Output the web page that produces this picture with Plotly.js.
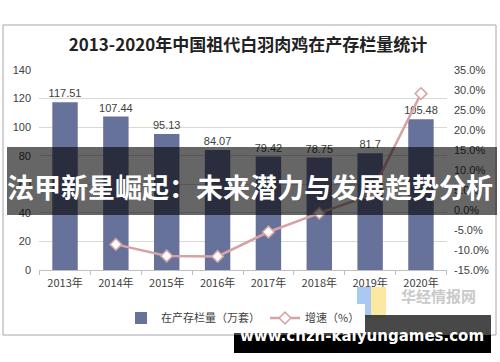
<!DOCTYPE html>
<html><head><meta charset="utf-8">
<script src="https://cdn.plot.ly/plotly-3.0.1.min.js"></script>
<style>body{margin:0;background:#fff}#c{width:500px;height:362px}</style>
</head><body><div id="c"></div>
<script>
const years = ["2013年","2014年","2015年","2016年","2017年","2018年","2019年","2020年"];
const stock = [117.51,107.44,95.13,84.07,79.42,78.75,81.7,105.48];
const growth = [null,-8.6,-11.5,-11.6,-5.5,-0.8,3.7,29.1];
const stockLabels = ["117.51","107.44","95.13","84.07","79.42","78.75","81.7","105.48"];
const leftTicks = [0,20,40,60,80,100,120,140];
const rightTicks = [-15,-10,-5,0,5,10,15,20,25,30,35];

const L=39,R=447,T=70,B=270;
const px = x => (x-L)/(R-L);
const py = y => (B-y)/(B-T);
const lab = {family:"Liberation Sans, Noto Sans CJK SC", size:11, color:"#404040"};

const traces = [
 {type:"bar", x:years, y:stock, name:"在产存栏量（万套）", marker:{color:"#67729b"}, width:0.5,
  text:stockLabels, textposition:"outside", textfont:lab, constraintext:"none", cliponaxis:false, hoverinfo:"none"},
 {type:"scatter", mode:"lines+markers", x:years, y:growth, yaxis:"y2", name:"增速（%）",
  line:{color:"#d6a3a5", width:2.5}, marker:{symbol:"diamond", size:9, color:"#fff", line:{color:"#d6a3a5", width:1.5}},
  connectgaps:false, hoverinfo:"none"}
];

const layout = {
 width:500, height:362, margin:{l:L, r:500-R, t:T, b:362-B},
 paper_bgcolor:"#fff", plot_bgcolor:"#fff", font:lab,
 title:{text:"2013-2020年中国祖代白羽肉鸡在产存栏量统计", x:0.496, xanchor:"center", y:1-45/362, yanchor:"middle",
   font:{family:"Noto Sans CJK SC", size:17, color:"#222", weight:"bold"}},
 xaxis:{type:"category", tickson:"boundaries", ticks:"outside", ticklen:4, tickcolor:"#bfbfbf",
   showline:true, linecolor:"#bfbfbf", linewidth:1, showgrid:false, ticklabelstandoff:3,
   tickfont:{family:"Noto Sans CJK SC", size:11, color:"#404040"}},
 yaxis:{range:[0,140], tickvals:leftTicks, showgrid:true, gridcolor:"#d9d9d9", zeroline:false, showline:false,
   ticks:"", tickfont:lab, ticklabelstandoff:7},
 yaxis2:{overlaying:"y", side:"right", range:[-15,35], tickvals:rightTicks, ticklabelstandoff:6,
   ticktext:rightTicks.map(v=>v.toFixed(1)+"%"), showgrid:false, zeroline:false, showline:false, tickfont:lab},
 showlegend:true,
 legend:{orientation:"h", x:0.5, xanchor:"center", y:py(318), yanchor:"middle", font:{family:"Noto Sans CJK SC", size:11, color:"#404040"}, itemwidth:30},
 bargap:0.5,
 shapes:[
  {type:"rect", xref:"paper", yref:"paper", x0:px(3), x1:px(496), y0:py(25), y1:py(335), line:{color:"#a6a6a6", width:1}, layer:"below"},
  {type:"rect", xref:"paper", yref:"paper", x0:px(357), x1:px(371), y0:py(287), y1:py(318), fillcolor:"#a9c9f2", line:{width:0}, layer:"above"},
  {type:"rect", xref:"paper", yref:"paper", x0:px(371), x1:px(386), y0:py(287), y1:py(318), fillcolor:"#fbe9a2", line:{width:0}, layer:"above"},
  {type:"rect", xref:"paper", yref:"paper", x0:px(7), x1:px(497), y0:py(147), y1:py(215), fillcolor:"rgba(0,0,0,0.6)", line:{width:0}, layer:"above"},
  {type:"rect", xref:"paper", yref:"paper", x0:px(234), x1:px(491), y0:py(315), y1:py(335), fillcolor:"rgba(40,40,40,0.85)", line:{width:0}, layer:"above"},
  {type:"rect", xref:"paper", yref:"paper", x0:px(234), x1:px(491), y0:py(335), y1:py(353), fillcolor:"#000", line:{width:0}, layer:"above"}
 ],
 annotations:[
  {text:"法甲新星崛起：未来潜力与发展趋势分析", xref:"paper", yref:"paper", x:px(250), y:py(186), showarrow:false,
   xanchor:"center", yanchor:"middle", font:{family:"Noto Sans CJK SC", size:27, color:"#fff", weight:"bold"}},
  {text:"华经情报网", xref:"paper", yref:"paper", x:px(438), y:py(295), showarrow:false, xanchor:"center", yanchor:"middle",
   font:{family:"Noto Sans CJK SC", size:15, color:"#c9c9c9", weight:"bold"}},
  {text:"www.cnzh-kaiyungames.com", xref:"paper", yref:"paper", x:px(362), y:py(336), showarrow:false, xanchor:"center", yanchor:"middle",
   font:{family:"DejaVu Sans", size:15, color:"#fff", weight:"bold"}}
 ]
};
Plotly.newPlot("c", traces, layout, {staticPlot:true, displayModeBar:false});
</script></body></html>
